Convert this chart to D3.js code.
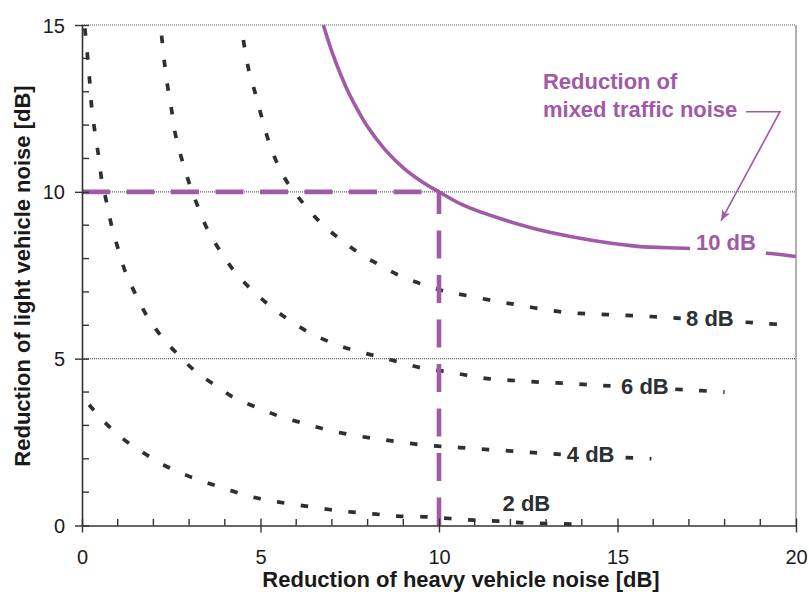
<!DOCTYPE html>
<html><head><meta charset="utf-8">
<script src="https://cdn.jsdelivr.net/npm/d3@7/dist/d3.min.js"></script>
<style>
body{margin:0;background:#fff}
svg{display:block}
text{font-family:"Liberation Sans",Arial,Helvetica,sans-serif}
</style>
</head><body>
<svg id="chart" width="809" height="592"></svg>
<script>
// ---- data (heavy vehicle reduction [dB], light vehicle reduction [dB]) ----
const xMajorTicks = [0, 5, 10, 15, 20];
const yMajorTicks = [0, 5, 10, 15];
const xMinorTicks = [1, 2, 3, 4, 6, 7, 8, 9, 11, 12, 13, 14, 16, 17, 18, 19];
const yMinorTicks = [1, 2, 3, 4, 6, 7, 8, 9, 11, 12, 13, 14];
const gridValues = [5, 10, 15];

const mixed10 = [[6.76,15],[7.0,14.2],[7.25,13.5],[7.5,12.9],[7.75,12.4],[8.0,11.95],[8.5,11.25],
  [9.0,10.72],[9.5,10.32],[10,10],[10.68,9.6],[11.71,9.2],[13.1,8.79],[15.44,8.38],[17.03,8.3],
  [19.18,8.16],[20,8.06]];
const mixed8 = [[4.52,14.55],[4.66,13.7],[4.85,12.97],[5.03,12.25],[5.22,11.55],[5.47,10.85],
  [5.8,10.2],[6.22,9.63],[6.69,9.07],[7.23,8.58],[7.77,8.16],[8.33,7.81],[8.86,7.51],[9.58,7.21],
  [10.21,7.01],[10.84,6.88],[11.6,6.72],[12.22,6.61],[12.92,6.48],[13.59,6.38],[14.28,6.34],
  [14.94,6.31],[15.6,6.28],[16.3,6.24],[19.05,6.06],[19.9,6.0]];
const mixed6 = [[2.23,14.68],[2.31,13.87],[2.4,13.15],[2.51,12.45],[2.62,11.7],[2.79,11.0],
  [3.0,10.27],[3.23,9.6],[3.51,8.88],[3.85,8.26],[4.24,7.66],[4.66,7.16],[5.2,6.64],[5.73,6.21],
  [6.32,5.81],[6.92,5.51],[7.58,5.26],[8.23,5.08],[8.85,4.91],[9.56,4.71],[10.24,4.61],
  [10.89,4.48],[11.54,4.38],[12.24,4.34],[12.94,4.29],[13.62,4.26],[14.28,4.21],[14.9,4.18],
  [17.03,4.06],[18.0,4.0]];
const mixed4 = [[0.08,14.9],[0.16,14.0],[0.22,13.25],[0.27,12.55],[0.36,11.8],[0.46,11.1],
  [0.55,10.38],[0.69,9.68],[0.83,8.98],[1.02,8.26],[1.23,7.56],[1.51,6.91],[1.83,6.26],
  [2.23,5.66],[2.7,5.11],[3.19,4.61],[3.75,4.19],[4.29,3.81],[4.97,3.51],[5.56,3.26],[6.22,3.06],
  [6.89,2.86],[7.58,2.71],[8.23,2.6],[8.87,2.51],[9.56,2.41],[10.26,2.36],[10.92,2.31],
  [11.62,2.26],[12.32,2.21],[12.97,2.16],[15.72,2.01],[15.95,2.0]];
const mixed2 = [[0.2,3.62],[0.64,3.09],[1.16,2.59],[1.72,2.18],[2.28,1.82],[2.92,1.51],
  [3.56,1.26],[4.22,1.03],[4.87,0.83],[5.52,0.7],[6.22,0.59],[6.92,0.48],[7.58,0.4],[8.23,0.34],
  [8.85,0.28],[9.61,0.26],[10.31,0.21],[10.98,0.16],[11.66,0.13],[12.36,0.08],[13.02,0.06],
  [13.72,0.04],[13.85,0.035]];
const guideHorizontal = [[0,10],[10,10]];
const guideVertical = [[10,0],[10,10]];
const curveLabels = ["10 dB", "8 dB", "6 dB", "4 dB", "2 dB"];
const annotationLines = ["Reduction of", "mixed traffic noise"];
const xTitle = "Reduction of heavy vehicle noise [dB]";
const yTitle = "Reduction of light vehicle noise [dB]";

// ---- layout ----
const PURPLE = "#a05aa6", DARK = "#2c2f34", AXIS = "#333";
const svg = d3.select("#chart");
const x = d3.scaleLinear().domain([0, 20]).range([82, 796]);
const y = d3.scaleLinear().domain([0, 15]).range([525.5, 25]);
const line = d3.line().x(d => x(d[0])).y(d => y(d[1])).curve(d3.curveCatmullRom.alpha(0.5));
const straight = d3.line().x(d => x(d[0])).y(d => y(d[1]));

// grid lines
svg.append("g").selectAll("line").data(gridValues).join("line")
  .attr("x1", x(0)).attr("x2", x(20)).attr("y1", d => y(d)).attr("y2", d => y(d))
  .attr("stroke", "#5e5e5e").attr("stroke-width", 1.2).attr("stroke-dasharray", "1,1");
svg.append("line").attr("x1", x(20)).attr("x2", x(20)).attr("y1", y(15)).attr("y2", y(0))
  .attr("stroke", "#999").attr("stroke-width", 1.5);

// dotted iso-curves
const dotted = [mixed8, mixed6, mixed4, mixed2];
svg.append("g").selectAll("path").data(dotted).join("path")
  .attr("d", line).attr("fill", "none").attr("stroke", DARK)
  .attr("stroke-width", 3.7).attr("stroke-dasharray", "7.5,16.5");

// purple 10 dB curve
svg.append("path").datum(mixed10).attr("d", line).attr("fill", "none")
  .attr("stroke", PURPLE).attr("stroke-width", 3.6);

// purple dashed guides
svg.append("path").datum(guideHorizontal).attr("d", straight).attr("fill", "none")
  .attr("stroke", PURPLE).attr("stroke-width", 4.6).attr("stroke-dasharray", "28,16.5");
svg.append("path").datum(guideVertical).attr("d", straight).attr("fill", "none")
  .attr("stroke", PURPLE).attr("stroke-width", 4.6).attr("stroke-dasharray", "28,16.5");

// curve labels with white background
const labelPos = [[17.2, 8.26], [16.92, 5.98], [15.1, 3.94], [13.58, 1.91], [11.78, 0.43]];
const labelColor = [PURPLE, DARK, DARK, DARK, DARK];
const labelPad = [[6, 10], [4, 4], [3, 4], [4, 4], [2, 2]];
const lg = svg.append("g");
curveLabels.forEach((t, i) => {
  const g = lg.append("g");
  const txt = g.append("text").attr("x", x(labelPos[i][0])).attr("y", y(labelPos[i][1]))
    .attr("font-size", 22).attr("font-weight", "bold").attr("fill", labelColor[i]).text(t);
  const b = txt.node().getBBox();
  if (i < 4) {
    g.insert("rect", "text").attr("x", b.x - labelPad[i][0]).attr("y", b.y + 2)
      .attr("width", b.width + labelPad[i][0] + labelPad[i][1]).attr("height", b.height - 2)
      .attr("fill", "#fff");
  }
});

// annotation
const annX = 12.94, annY = [13.07, 12.25];
annotationLines.forEach((t, i) => {
  svg.append("text").attr("x", x(annX) - 1).attr("y", y(annY[i]))
    .attr("font-size", 22).attr("font-weight", "bold").attr("fill", PURPLE).text(t);
});
const defs = svg.append("defs");
defs.append("marker").attr("id", "arrow").attr("viewBox", "-12 -6 14 12")
  .attr("refX", 0).attr("refY", 0).attr("markerWidth", 14).attr("markerHeight", 12)
  .attr("markerUnits", "userSpaceOnUse").attr("orient", "auto")
  .append("path").attr("d", "M0,0 L-11,-4.5 L-8,0 L-11,4.5 Z").attr("fill", PURPLE);
const arrowPts = [[18.6, 12.4], [19.55, 12.4], [17.9, 9.13]];
svg.append("path").datum(arrowPts).attr("d", straight).attr("fill", "none")
  .attr("stroke", PURPLE).attr("stroke-width", 1.6).attr("marker-end", "url(#arrow)");

// axes
const xg = svg.append("g").attr("transform", `translate(0,${y(0)})`)
  .call(d3.axisBottom(x).tickValues(xMajorTicks).tickSizeInner(7).tickSizeOuter(0));
xg.select(".domain").attr("stroke", AXIS).attr("stroke-width", 1.6);
xg.selectAll(".tick line").attr("y1", -7).attr("y2", 7).attr("stroke", AXIS).attr("stroke-width", 1.4);
xg.selectAll(".tick text").attr("y", 38.5).attr("dy", 0).attr("font-size", 20)
  .attr("font-family", "Liberation Sans, Arial, sans-serif").attr("fill", "#1a1a1a");
xg.selectAll(".minor").data(xMinorTicks).join("line").attr("class", "minor")
  .attr("x1", d => x(d)).attr("x2", d => x(d)).attr("y1", -6.5).attr("y2", 0)
  .attr("stroke", AXIS).attr("stroke-width", 1.4);

const yg = svg.append("g").attr("transform", `translate(${x(0)},0)`)
  .call(d3.axisLeft(y).tickValues(yMajorTicks).tickSizeInner(7).tickSizeOuter(0));
yg.select(".domain").attr("stroke", AXIS).attr("stroke-width", 1.6);
yg.selectAll(".tick line").attr("x1", -7).attr("x2", 7).attr("stroke", AXIS).attr("stroke-width", 1.4);
yg.selectAll(".tick text").attr("x", -17).attr("dy", "0.35em").attr("font-size", 20)
  .attr("font-family", "Liberation Sans, Arial, sans-serif").attr("fill", "#1a1a1a");
yg.selectAll(".minor").data(yMinorTicks).join("line").attr("class", "minor")
  .attr("y1", d => y(d)).attr("y2", d => y(d)).attr("x1", 0).attr("x2", 7)
  .attr("stroke", AXIS).attr("stroke-width", 1.4);

// axis titles
svg.append("text").attr("x", 461).attr("y", 587).attr("text-anchor", "middle")
  .attr("font-size", 22).attr("font-weight", "bold").attr("fill", "#1a1a1a").text(xTitle);
svg.append("text").attr("transform", "translate(30,276) rotate(-90)").attr("text-anchor", "middle")
  .attr("font-size", 22).attr("font-weight", "bold").attr("fill", "#1a1a1a").text(yTitle);
</script>
</body></html>
